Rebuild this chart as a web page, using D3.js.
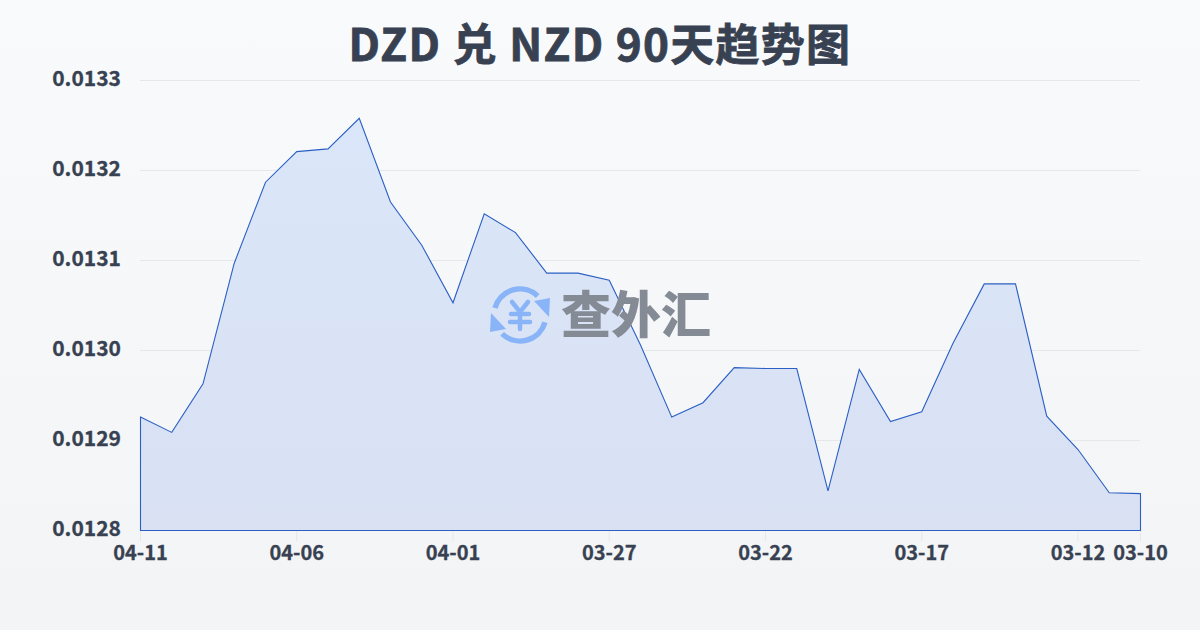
<!DOCTYPE html>
<html><head><meta charset="utf-8">
<script src="https://cdn.jsdelivr.net/npm/d3@7/dist/d3.min.js"></script>
<style>html,body{margin:0;padding:0;width:1200px;height:630px;overflow:hidden}svg{display:block}.lab{font-feature-settings:"pnum","kern"}</style>
</head><body><svg id="c" width="1200" height="630"></svg>
<script>
const titleText = "DZD 兑 NZD 90天趋势图";
const dates = ["04-11","04-10","04-09","04-08","04-07","04-06","04-05","04-04","04-03","04-02","04-01","03-31","03-30","03-29","03-28","03-27","03-26","03-25","03-24","03-23","03-22","03-21","03-20","03-19","03-18","03-17","03-16","03-15","03-14","03-13","03-12","03-11","03-10"];
const rates = [0.012926,0.012909,0.012963,0.013097,0.013187,0.013221,0.013224,0.013258,0.013165,0.013117,0.013053,0.013152,0.013131,0.013086,0.013086,0.013078,0.013006,0.012926,0.012942,0.012981,0.012980,0.012980,0.012844,0.012979,0.012921,0.012932,0.013008,0.013074,0.013074,0.012927,0.012890,0.012842,0.012841];
const xTickLabels = ["04-11","04-06","04-01","03-27","03-22","03-17","03-12","03-10"];
const yTicks = [0.0128,0.0129,0.0130,0.0131,0.0132,0.0133];
const fontMain = "'Noto Sans CJK SC',sans-serif";
const svg = d3.select("#c");
const defs = svg.append("defs");
const bg = defs.append("linearGradient").attr("id","bg").attr("x1",0).attr("y1",0).attr("x2",0).attr("y2",1);
bg.append("stop").attr("offset",0).attr("stop-color","#f8fafc");
bg.append("stop").attr("offset",1).attr("stop-color","#f3f4f6");
const ag = defs.append("linearGradient").attr("id","ag").attr("x1",0).attr("y1",0).attr("x2",0).attr("y2",1);
ag.append("stop").attr("offset",0).attr("stop-color","#dae6f9");
ag.append("stop").attr("offset",1).attr("stop-color","#d9e1f3");
svg.append("rect").attr("width",1200).attr("height",630).attr("fill","url(#bg)");

const x = d3.scalePoint().domain(dates).range([140.5,1140.5]);
const y = d3.scaleLinear().domain([0.0128,0.0133]).range([530.5,80.5]);

svg.append("text").attr("x",600).attr("y",61).attr("text-anchor","middle")
  .attr("font-family",fontMain).attr("font-weight",700).attr("font-size",44).attr("letter-spacing",1.3)
  .attr("fill","#374151").attr("stroke","#374151").attr("stroke-width",0.8).text(titleText);

svg.append("g").selectAll("line").data(yTicks).join("line")
  .attr("x1",140).attr("x2",1140).attr("y1",d=>y(d)).attr("y2",d=>y(d))
  .attr("stroke","#e5e7eb").attr("stroke-width",1);

const area = d3.area().x((d,i)=>x(dates[i])).y0(y(0.0128)).y1(d=>y(d));
svg.append("path").datum(rates).attr("d",area).attr("fill","url(#ag)").attr("stroke","#2b5fc4").attr("stroke-width",1.1);

svg.append("g").selectAll("line").data(xTickLabels).join("line")
  .attr("x1",d=>x(d)).attr("x2",d=>x(d)).attr("y1",531).attr("y2",541)
  .attr("stroke","#e5e7eb");
svg.append("g").selectAll("text").data(xTickLabels).join("text").attr("class","lab")
  .attr("x",d=>x(d)).attr("y",560).attr("text-anchor","middle")
  .attr("font-family",fontMain).attr("font-weight",700).attr("font-size",20)
  .attr("fill","#374151").attr("stroke","#374151").attr("stroke-width",0.3).text(d=>d);
svg.append("g").selectAll("text").data(yTicks).join("text").attr("class","lab")
  .attr("x",121).attr("y",d=>y(d)+5).attr("text-anchor","end")
  .attr("font-family",fontMain).attr("font-weight",700).attr("font-size",21)
  .attr("fill","#374151").attr("stroke","#374151").attr("stroke-width",0.3).text(d=>d.toFixed(4));

const wm = svg.append("g");
const ic = wm.append("g").attr("transform","translate(520,315)").attr("fill","none").attr("stroke","#8ab4f8").attr("stroke-width",5.5).attr("stroke-linecap","round");
const arc = d3.arc().innerRadius(26).outerRadius(26);
ic.append("path").attr("d",arc({startAngle:-1.3,endAngle:0.75}));
ic.append("path").attr("d",arc({startAngle:1.85,endAngle:3.9}));
ic.append("path").attr("d","M14,-14 L30,-17 L29,2 Z").attr("fill","#8ab4f8").attr("stroke","none");
ic.append("path").attr("d","M-14,14 L-30,17 L-29,-2 Z").attr("fill","#8ab4f8").attr("stroke","none");
const yen = ic.append("g").attr("stroke-width",4.5);
yen.append("path").attr("d","M-8,-13 L0,-3 L8,-13");
yen.append("path").attr("d","M-9,-1 H9");
yen.append("path").attr("d","M-10,7 H10");
yen.append("path").attr("d","M0,-3 V14");
wm.append("text").attr("x",636).attr("y",333).attr("text-anchor","middle").attr("font-family","'Noto Sans CJK SC'").attr("font-weight",900).attr("font-size",50).attr("fill","#858b95").text("查外汇");
</script></body></html>
